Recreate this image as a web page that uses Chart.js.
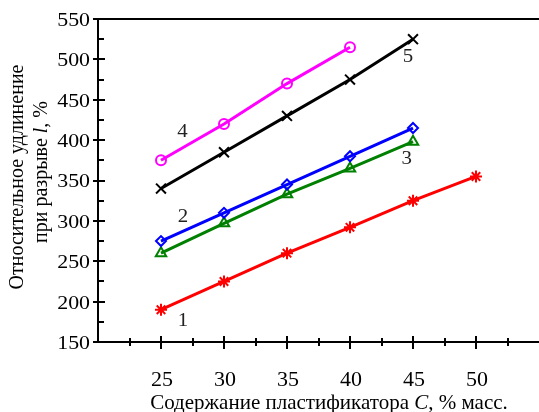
<!DOCTYPE html>
<html>
<head>
<meta charset="utf-8">
<script src="https://cdn.jsdelivr.net/npm/chart.js@4/dist/chart.umd.min.js"></script>
<style>
  html, body { margin: 0; padding: 0; background: #fff; }
  #wrap { width: 539px; height: 412px; position: relative; }
</style>
</head>
<body>
<div id="wrap"><canvas id="chart"></canvas></div>
<script>
const xValues = [25, 30, 35, 40, 45, 50];
const series1 = [190, 225, 260, 292, 325, 355];
const series2 = [275, 310, 345, 380, 415];
const series3 = [260, 297, 333, 365, 398];
const series4 = [375, 420, 470, 515];
const series5 = [340, 385, 430, 475, 525];
const yTicks = [150, 200, 250, 300, 350, 400, 450, 500, 550];
const xTicks = [25, 30, 35, 40, 45, 50];
// curve number labels: [text, x, y] in data units
const curveLabels = [['1', 26.75, 176], ['2', 26.75, 305], ['3', 44.5, 376], ['4', 26.7, 410], ['5', 44.6, 503]];

const serif = '"Liberation Serif", "DejaVu Serif", serif';

const toPoints = vals => vals.map((v, i) => ({ x: xValues[i], y: v }));

const mkSet = (vals, color, style, radius) => ({
  data: toPoints(vals),
  borderColor: color,
  backgroundColor: 'rgba(0,0,0,0)',
  borderWidth: 3,
  pointStyle: style,
  pointRadius: radius,
  pointBorderColor: color,
  pointBorderWidth: 2,
  pointBackgroundColor: 'rgba(0,0,0,0)',
  tension: 0
});

// text slightly stretched horizontally, like the original scan
const wideText = (ctx, t, x, y, size, align, sx) => {
  ctx.save();
  ctx.font = size + 'px ' + serif;
  ctx.textAlign = align;
  ctx.translate(x, y);
  ctx.scale(sx, 1);
  ctx.fillText(t, 0, 0);
  ctx.restore();
};

// draws crossing ticks, tick labels, top line, axis titles and curve numbers
const decor = {
  id: 'decor',
  afterDraw(chart) {
    const ctx = chart.ctx;
    const xs = chart.scales.x, ys = chart.scales.y;
    const a = chart.chartArea;
    ctx.save();
    ctx.strokeStyle = '#000';
    ctx.lineWidth = 2;
    ctx.beginPath();
    ctx.moveTo(a.left - 1, a.top);
    ctx.lineTo(a.right, a.top);
    ctx.stroke();

    // y ticks
    for (let v = 150; v <= 550; v += 25) {
      const p = Math.round(ys.getPixelForValue(v));
      const major = v % 50 === 0;
      ctx.beginPath();
      ctx.moveTo(a.left - (major ? 5 : 0), p);
      ctx.lineTo(a.left + (major ? 7 : 6), p);
      ctx.stroke();
    }
    // x ticks
    for (let v = 22.5; v <= 52.5; v += 2.5) {
      const p = Math.round(xs.getPixelForValue(v));
      const major = v % 5 === 0;
      ctx.beginPath();
      ctx.moveTo(p, a.bottom - (major ? 6 : 4));
      ctx.lineTo(p, a.bottom + (major ? 7 : 4));
      ctx.stroke();
    }

    ctx.fillStyle = '#000';
    ctx.textBaseline = 'middle';
    yTicks.forEach(v => wideText(ctx, String(v), 90, ys.getPixelForValue(v) + 2, 19, 'right', 1.15));
    xTicks.forEach(v => wideText(ctx, String(v), xs.getPixelForValue(v) + 1, 381, 20, 'center', 1.1));

    // curve numbers
    ctx.fillStyle = '#222';
    curveLabels.forEach(([t, x, y]) => {
      wideText(ctx, t, xs.getPixelForValue(x), ys.getPixelForValue(y), 19, 'center', 1.1);
    });

    // mixed roman / italic text
    const drawRuns = (runs, cx, cy, size) => {
      let w = 0;
      runs.forEach(r => { ctx.font = (r[1] ? 'italic ' : '') + size + 'px ' + serif; w += ctx.measureText(r[0]).width; });
      let x = cx - w / 2;
      ctx.textAlign = 'left';
      runs.forEach(r => {
        ctx.font = (r[1] ? 'italic ' : '') + size + 'px ' + serif;
        ctx.fillText(r[0], x, cy);
        x += ctx.measureText(r[0]).width;
      });
    };

    ctx.fillStyle = '#000';
    ctx.textBaseline = 'alphabetic';
    drawRuns([['Содержание пластификатора ', false], ['C', true], [', % масс.', false]], 329, 409, 21);

    ctx.textBaseline = 'middle';
    ctx.save();
    ctx.rotate(-Math.PI / 2);
    drawRuns([['Относительное удлинение', false]], -177, 18, 20);
    drawRuns([['при разрыве ', false], ['l', true], [', %', false]], -172, 42, 20);
    ctx.restore();
    ctx.restore();
  }
};

new Chart(document.getElementById('chart'), {
  type: 'line',
  data: {
    datasets: [
      mkSet(series1, '#ff0000', 'star', 6),
      mkSet(series2, '#0000ff', 'rectRot', 5),
      mkSet(series3, '#008000', 'triangle', 6),
      mkSet(series4, '#ff00ff', 'circle', 5),
      mkSet(series5, '#000000', 'crossRot', 7)
    ]
  },
  options: {
    responsive: true,
    maintainAspectRatio: false,
    animation: false,
    layout: { autoPadding: false, padding: { top: 19, right: 0, left: 0, bottom: 0 } },
    plugins: { legend: { display: false }, tooltip: { enabled: false } },
    scales: {
      x: {
        type: 'linear',
        min: 20,
        max: 55,
        afterFit: s => { s.height = 70; },
        grid: { display: false, drawTicks: false },
        border: { display: true, color: '#000', width: 2 },
        ticks: { display: false }
      },
      y: {
        min: 150,
        max: 550,
        afterFit: s => { s.width = 98; },
        grid: { display: false, drawTicks: false },
        border: { display: true, color: '#000', width: 2 },
        ticks: { display: false }
      }
    }
  },
  plugins: [decor]
});
</script>
</body>
</html>
